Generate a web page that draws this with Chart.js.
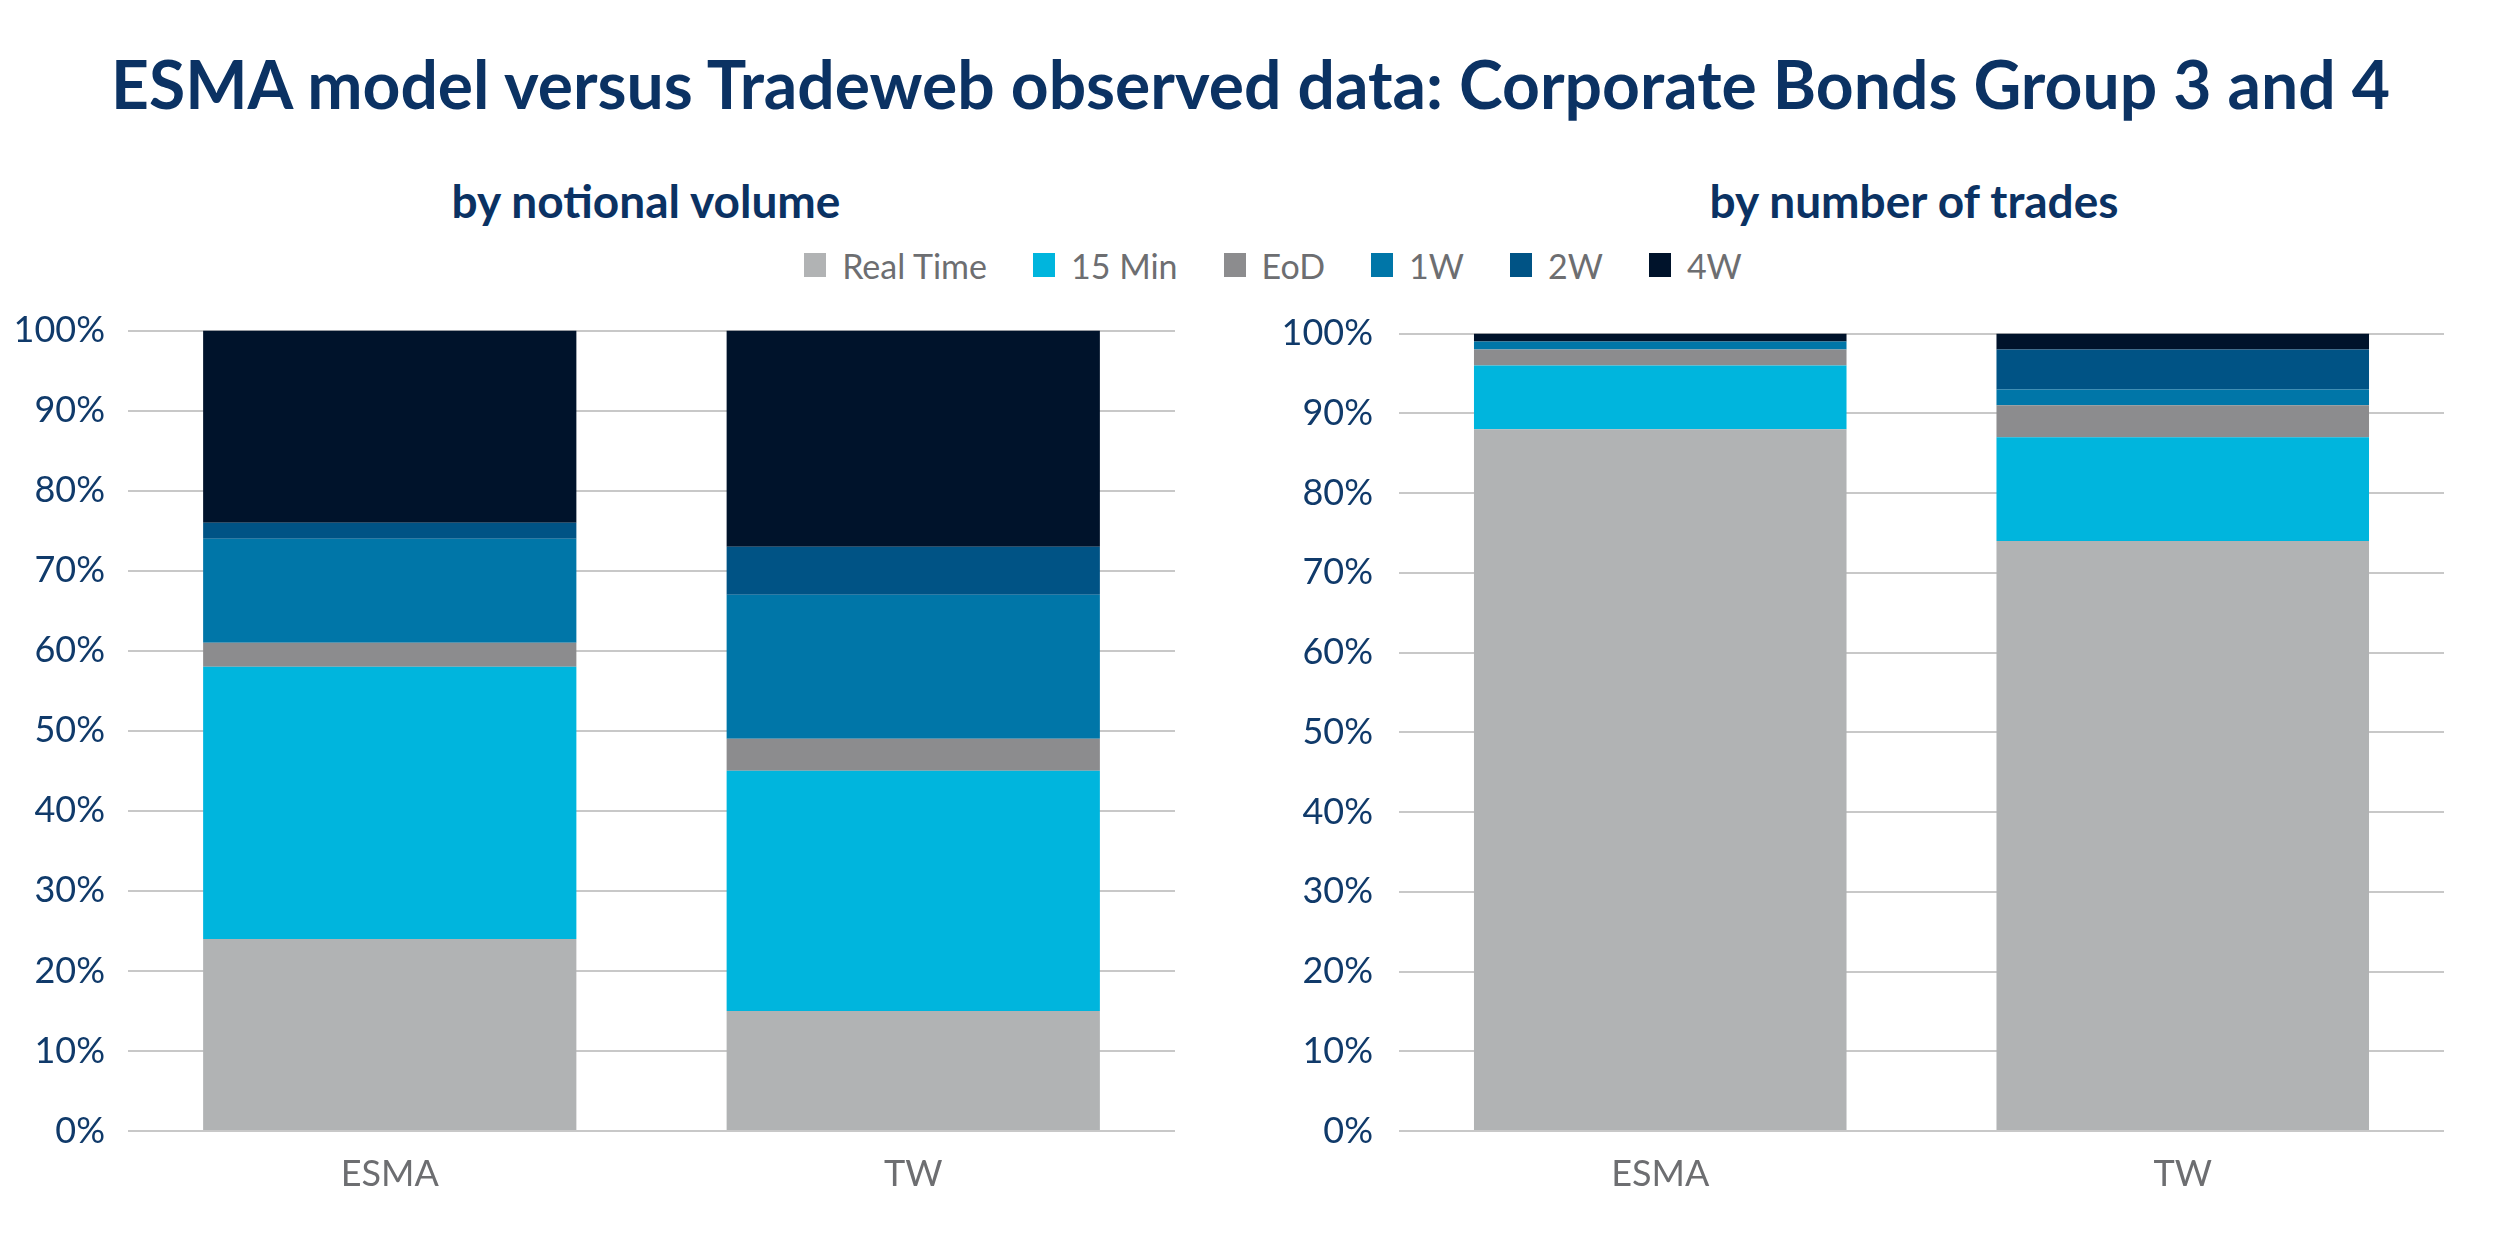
<!DOCTYPE html>
<html><head><meta charset="utf-8">
<script src="https://cdn.jsdelivr.net/npm/chart.js@4.4.1/dist/chart.umd.min.js"></script>
<style>
body{margin:0;width:2501px;height:1251px;background:#fff;position:relative;overflow:hidden;font-family:Lato,"Open Sans",sans-serif}
#title{position:absolute;left:0;width:2501px;top:41px;text-align:center;font-weight:700;font-size:66px;color:#0b3263;line-height:86px;white-space:nowrap}
.sub{position:absolute;top:172px;width:1000px;font-weight:700;font-size:46px;color:#0b3263;text-align:center;line-height:58px;white-space:nowrap}
#legend{position:absolute;top:244px;left:0;width:2546px;display:flex;justify-content:center;align-items:center;height:42px}
.li{display:flex;align-items:center;margin:0 23px;font-size:34px;color:#6d6e71}
.sw{width:22px;height:24px;margin-right:16px}
canvas{position:absolute}
</style></head>
<body>
<div id="title">ESMA model versus Tradeweb observed data: Corporate Bonds Group 3 and 4</div>
<div class="sub" style="left:146px">by notional volume</div>
<div class="sub" style="left:1414px">by number of trades</div>
<div id="legend"></div>
<canvas id="c1" width="1200" height="965" style="left:0;top:286px"></canvas>
<canvas id="c2" width="1241" height="965" style="left:1260px;top:286px"></canvas>
<script>
const categories = ["ESMA", "TW"];
const seriesNames = ["Real Time", "15 Min", "EoD", "1W", "2W", "4W"];
const seriesColors = ["#b1b3b4", "#00b5dd", "#8c8c8e", "#0076a8", "#005385", "#00132b"];
// by notional volume (%), per category [ESMA, TW]
const volRealTime = [24, 15];
const vol15Min   = [34, 30];
const volEoD     = [3, 4];
const vol1W      = [13, 18];
const vol2W      = [2, 6];
const vol4W      = [24, 27];
// by number of trades (%)
const trdRealTime = [88, 74];
const trd15Min   = [8, 13];
const trdEoD     = [2, 4];
const trd1W      = [1, 2];
const trd2W      = [0, 5];
const trd4W      = [1, 2];
const yTicks = [0,10,20,30,40,50,60,70,80,90,100];

// legend
const lg = document.getElementById('legend');
seriesNames.forEach((n,i)=>{
  const d=document.createElement('div');d.className='li';
  d.innerHTML='<div class="sw" style="background:'+seriesColors[i]+'"></div><span>'+n+'</span>';
  lg.appendChild(d);
});

function makeChart(id, series, yWidth, tickPad, padRight){
  const datasets = series.map((data,i)=>({
    label: seriesNames[i], data: data, backgroundColor: seriesColors[i], borderWidth:0,
    categoryPercentage:1.0, barPercentage:0.713
  }));
  return new Chart(document.getElementById(id), {
    type:'bar',
    data:{labels:categories, datasets},
    options:{
      responsive:false, animation:false,
      layout:{padding:{top:21,right:padRight,left:0,bottom:0}},
      plugins:{legend:{display:false}, tooltip:{enabled:false}},
      scales:{
        x:{stacked:true, grid:{display:false, drawTicks:false}, border:{display:false},
           ticks:{color:'#6d6e71', font:{family:'Lato', size:36}, padding:22},
           afterFit:(s)=>{s.height=120;}},
        y:{stacked:true, min:0, max:100,
           afterBuildTicks:(s)=>{s.ticks=yTicks.map(v=>({value:v}));},
           grid:{color:'#c8c8c8', lineWidth:2, drawTicks:false}, border:{display:false},
           ticks:{color:'#103a6a', font:{family:'Lato', size:36}, padding:tickPad, callback:(v)=>v+'%'},
           afterFit:(s)=>{s.width=yWidth;}}
      }
    }
  });
}
makeChart('c1', [volRealTime, vol15Min, volEoD, vol1W, vol2W, vol4W], 128, 23, 25);
makeChart('c2', [trdRealTime, trd15Min, trdEoD, trd1W, trd2W, trd4W], 139, 26, 57);
</script>
</body></html>
